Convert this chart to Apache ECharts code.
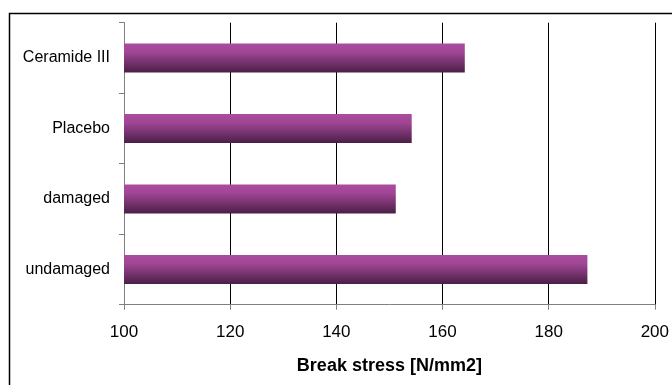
<!DOCTYPE html>
<html>
<head>
<meta charset="utf-8">
<script src="https://cdn.jsdelivr.net/npm/echarts@6/dist/echarts.min.js"></script>
<style>
  html, body { margin: 0; padding: 0; background: #fff; }
  #chart { width: 672px; height: 385px; }
</style>
</head>
<body>
<div id="chart"></div>
<script>
// categories listed bottom to top
var categories = ['undamaged', 'damaged', 'Placebo', 'Ceramide III'];
var breakStress = [187.3, 151.2, 154.2, 164.2];
var xTicks = [100, 120, 140, 160, 180, 200];

var chart = echarts.init(document.getElementById('chart'));

var option = {
    animation: false,
    backgroundColor: '#ffffff',
    textStyle: { fontFamily: 'Liberation Sans, Arial, sans-serif' },
    graphic: [
        {
            type: 'rect',
            shape: { x: 9.5, y: 13.5, width: 700, height: 400 },
            style: { fill: 'none', stroke: '#000', lineWidth: 1.5 },
            z: 0
        }
    ],
    grid: { left: 124, right: 16.5, top: 22.7, bottom: 80.3 },
    xAxis: {
        type: 'value',
        min: xTicks[0],
        max: xTicks[xTicks.length - 1],
        interval: 20,
        name: 'Break stress [N/mm2]',
        nameLocation: 'middle',
        nameGap: 52,
        nameTextStyle: { fontSize: 18, fontWeight: 'bold', color: '#000' },
        axisLine: { show: true, lineStyle: { color: '#808080', width: 1 } },
        axisTick: { show: true, length: 5, lineStyle: { color: '#808080' } },
        axisLabel: { fontSize: 17, color: '#000', margin: 19 },
        splitLine: { show: true, lineStyle: { color: '#000', width: 1 } }
    },
    yAxis: {
        type: 'category',
        data: categories,
        axisLine: { show: true, lineStyle: { color: '#808080', width: 1 } },
        axisTick: { show: true, length: 5, alignWithLabel: false, lineStyle: { color: '#808080' } },
        axisLabel: { fontSize: 16, color: '#000', margin: 14 },
        splitLine: { show: false }
    },
    series: [
        {
            type: 'bar',
            data: breakStress,
            barWidth: '41%',
            itemStyle: {
                color: new echarts.graphic.LinearGradient(0, 0, 0, 1, [
                    { offset: 0, color: '#ab4c9f' },
                    { offset: 0.3, color: '#a04695' },
                    { offset: 1, color: '#4b1f46' }
                ])
            }
        }
    ]
};

chart.setOption(option);
</script>
</body>
</html>
